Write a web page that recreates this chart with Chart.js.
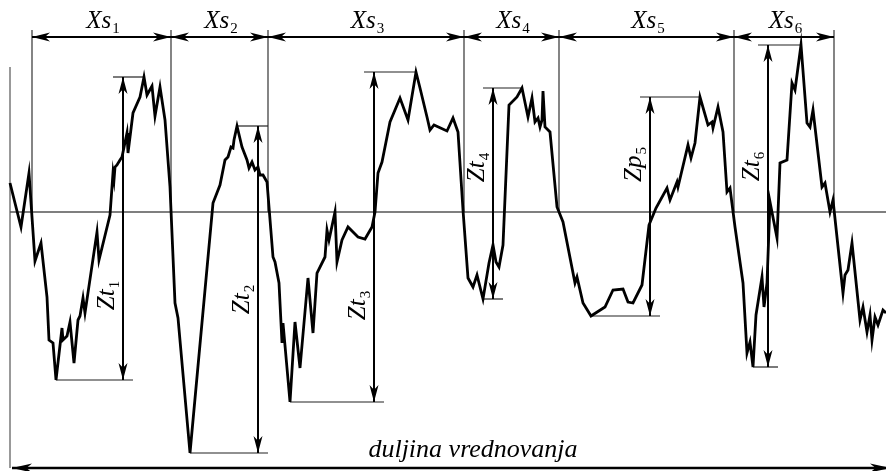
<!DOCTYPE html>
<html>
<head>
<meta charset="utf-8">
<script src="https://cdn.jsdelivr.net/npm/chart.js@4.4.0/dist/chart.umd.min.js"></script>
<style>
  body { margin: 0; background: #fff; }
  #wrap { width: 886px; height: 471px; }
</style>
</head>
<body>
<div id="wrap"><canvas id="profile-chart"></canvas></div>
<script>
// Profile: x along the evaluation length, y from the mean line (up = +)
const profileX = [
  10, 21, 29, 35, 41, 47, 49, 53, 56, 62, 63, 67, 70, 74, 78, 80, 83, 85, 97, 99,
  110, 113, 114, 115, 117, 120, 122, 127, 128, 133, 140, 144, 147, 152, 155, 160, 165, 170, 175, 178,
  190, 213, 220, 225, 228, 231, 233, 234, 237, 242, 247, 249, 252, 255, 258, 260, 263, 267, 273, 275,
  279, 282, 283, 290, 295, 300, 308, 313, 317, 325, 327, 329, 335, 337, 342, 348, 358, 365, 372, 375,
  378, 382, 390, 400, 408, 416, 420, 427, 430, 434, 447, 453, 458, 463, 468, 473, 477, 483, 489, 493,
  496, 499, 503, 509, 517, 522, 528, 532, 535, 538, 540, 542, 543, 545, 550, 557, 563, 575, 577, 583,
  591, 605, 613, 623, 628, 633, 642, 649, 656, 667, 670, 677, 678, 688, 691, 695, 700, 708, 712, 713,
  718, 723, 727, 730, 735, 743, 747, 750, 753, 756, 762, 764, 767, 770, 777, 780, 787, 792, 795, 801,
  807, 810, 813, 822, 825, 830, 833, 843, 845, 848, 852, 860, 863, 867, 870, 872, 875, 878, 883, 886
];
const profileY = [
  29, -15, 39, -49, -31, -85, -128, -131, -168, -116, -128, -124, -110, -151, -108, -104, -86, -101, -20, -48,
  -3, 39, 32, 45, 47, 52, 55, 79, 59, 99, 115, 135, 117, 126, 96, 125, 92, 25, -91, -106,
  -241, 9, 27, 52, 55, 65, 64, 72, 86, 65, 52, 44, 50, 42, 45, 37, 37, 30, -45, -50,
  -71, -131, -111, -190, -110, -156, -66, -121, -61, -45, -18, -28, 0, -50, -28, -15, -25, -27, -15, 0,
  39, 50, 90, 114, 92, 140, 124, 95, 82, 87, 81, 94, 80, 2, -66, -75, -63, -87, -51, -33,
  -50, -55, -33, 107, 115, 124, 95, 114, 90, 94, 85, 92, 121, 85, 80, 5, -10, -71, -65, -91,
  -104, -95, -78, -77, -90, -91, -73, -13, 4, 24, 12, 30, 25, 67, 54, 69, 115, 87, 90, 84,
  105, 80, 20, 24, -15, -71, -141, -130, -155, -103, -65, -95, -71, 10, -26, 49, 52, 129, 122, 167,
  89, 85, 102, 25, 29, 0, 12, -81, -63, -58, -31, -108, -95, -120, -103, -128, -105, -113, -98, -101
];

// Sampling-length boundaries and their labels
const segmentEdges = [32, 171, 268, 464, 559, 734, 834];
const segmentNames = ['Xs', 'Xs', 'Xs', 'Xs', 'Xs', 'Xs'];
const segmentSubs = ['1', '2', '3', '4', '5', '6'];

// Height arrows inside each segment
const heightArrowX = [123, 258, 374, 493, 650, 768];
const heightNames = ['Zt', 'Zt', 'Zt', 'Zt', 'Zp', 'Zt'];
const heightSubs = ['1', '2', '3', '4', '5', '6'];

const lengthLabel = 'duljina vrednovanja';

const SERIF = '"Liberation Serif", "Times New Roman", Times, "DejaVu Serif", serif';

function arrowHead(ctx, x, y, dx, dy, len, half) {
  const nx = -dy, ny = dx;
  const bx = x - dx * len, by = y - dy * len;
  ctx.beginPath();
  ctx.moveTo(x, y);
  ctx.lineTo(bx + nx * half, by + ny * half);
  ctx.lineTo(x - dx * len * 0.72, y - dy * len * 0.72);
  ctx.lineTo(bx - nx * half, by - ny * half);
  ctx.closePath();
  ctx.fill();
}

function line(ctx, x1, y1, x2, y2) {
  ctx.beginPath();
  ctx.moveTo(x1, y1);
  ctx.lineTo(x2, y2);
  ctx.stroke();
}

// main text + subscript, centred on cx
function subText(ctx, main, sub, cx, base) {
  const mainFont = 'italic 25px ' + SERIF;
  const subFont = '15px ' + SERIF;
  ctx.textAlign = 'left';
  ctx.font = mainFont;
  const w1 = ctx.measureText(main).width;
  ctx.font = subFont;
  const w2 = ctx.measureText(sub).width;
  const start = cx - (w1 + w2) / 2;
  ctx.font = mainFont;
  ctx.fillText(main, start, base);
  ctx.font = subFont;
  ctx.fillText(sub, start + w1 + 1, base + 5);
}

function segmentExtremes(i) {
  let hi = null, lo = null;
  profileX.forEach((x, k) => {
    if (x < segmentEdges[i] || x > segmentEdges[i + 1]) return;
    if (!hi || profileY[k] > hi.y) hi = { x, y: profileY[k] };
    if (!lo || profileY[k] < lo.y) lo = { x, y: profileY[k] };
  });
  return { hi, lo };
}

const profileMarks = {
  id: 'profileMarks',
  beforeDatasetsDraw(chart, args, opts) {
    const { ctx } = chart;
    const xs = chart.scales.x, ys = chart.scales.y;
    const px = v => xs.getPixelForValue(v);
    const py = v => ys.getPixelForValue(v);
    ctx.save();
    ctx.lineWidth = 1.2;
    ctx.strokeStyle = '#000';
    // mean line
    line(ctx, px(profileX[0]), py(0), px(886), py(0));
    // left reference line
    ctx.strokeStyle = '#555';
    line(ctx, px(profileX[0]), py(opts.leftTop), px(profileX[0]), py(opts.bottomY));
    // segment boundaries
    ctx.strokeStyle = '#333';
    segmentEdges.forEach(e => line(ctx, px(e), py(opts.edgeTop), px(e), py(0)));
    // peak / valley reference lines
    ctx.strokeStyle = '#222';
    heightArrowX.forEach((ax, i) => {
      const { hi, lo } = segmentExtremes(i);
      line(ctx, px(Math.min(ax - 10, hi.x)), py(hi.y), px(Math.max(ax + 10, hi.x)), py(hi.y));
      line(ctx, px(Math.min(ax - 10, lo.x)), py(lo.y), px(Math.max(ax + 10, lo.x)), py(lo.y));
    });
    ctx.restore();
  },
  afterDatasetsDraw(chart, args, opts) {
    const { ctx } = chart;
    const xs = chart.scales.x, ys = chart.scales.y;
    const px = v => xs.getPixelForValue(v);
    const py = v => ys.getPixelForValue(v);
    ctx.save();
    ctx.fillStyle = '#000';
    ctx.strokeStyle = '#000';
    ctx.textBaseline = 'alphabetic';

    // top dimension arrows with labels
    ctx.lineWidth = 2.2;
    const dy = py(opts.dimY);
    for (let i = 0; i < segmentEdges.length - 1; i++) {
      const a = px(segmentEdges[i]), b = px(segmentEdges[i + 1]);
      line(ctx, a, dy, b, dy);
      arrowHead(ctx, a, dy, -1, 0, 18, 4.5);
      arrowHead(ctx, b, dy, 1, 0, 18, 4.5);
      subText(ctx, segmentNames[i], segmentSubs[i], (a + b) / 2 + 1, py(opts.dimLabelY));
    }

    // vertical height arrows with rotated labels
    ctx.lineWidth = 2;
    heightArrowX.forEach((ax, i) => {
      const { hi, lo } = segmentExtremes(i);
      const x = px(ax), t = py(hi.y), b = py(lo.y);
      line(ctx, x, t, x, b);
      arrowHead(ctx, x, t, 0, -1, 17, 4.5);
      arrowHead(ctx, x, b, 0, 1, 17, 4.5);
      ctx.save();
      ctx.translate(x - 9, py(opts.heightLabelY[i]));
      ctx.rotate(-Math.PI / 2);
      subText(ctx, heightNames[i], heightSubs[i], 0, 0);
      ctx.restore();
    });

    // evaluation length arrow
    ctx.lineWidth = 2.4;
    const by = py(opts.bottomY);
    line(ctx, px(12), by, px(886), by);
    arrowHead(ctx, px(12), by, -1, 0, 20, 4.5);
    arrowHead(ctx, px(890), by, 1, 0, 20, 4.5);
    ctx.font = 'italic 26px ' + SERIF;
    ctx.textAlign = 'center';
    ctx.fillText(lengthLabel, px(opts.lengthLabelX), py(opts.lengthLabelY));
    ctx.restore();
  }
};

const points = profileX.map((x, i) => ({ x, y: profileY[i] }));

function drawChart() {
  new Chart(document.getElementById('profile-chart'), {
    type: 'line',
    data: {
      datasets: [{
        data: points,
        borderColor: '#000',
        borderWidth: 2.8,
        pointRadius: 0,
        tension: 0,
        fill: false,
        clip: false
      }]
    },
    options: {
      responsive: true,
      maintainAspectRatio: false,
      animation: false,
      layout: { padding: 0 },
      plugins: {
        legend: { display: false },
        tooltip: { enabled: false },
        profileMarks: {
          dimY: 175,
          dimLabelY: 184,
          edgeTop: 182,
          leftTop: 145,
          bottomY: -256,
          lengthLabelX: 473,
          lengthLabelY: -245,
          heightLabelY: [-84, -88, -94, 44, 47, 45]
        }
      },
      scales: {
        x: { type: 'linear', min: 0, max: 886, display: false },
        y: { type: 'linear', min: -259, max: 212, display: false }
      }
    },
    plugins: [profileMarks]
  });
}

// make sure the serif faces are ready before the canvas text is drawn
Promise.all([
  document.fonts.load('italic 25px "Liberation Serif"'),
  document.fonts.load('15px "Liberation Serif"')
]).catch(() => {}).then(drawChart);
</script>
</body>
</html>
